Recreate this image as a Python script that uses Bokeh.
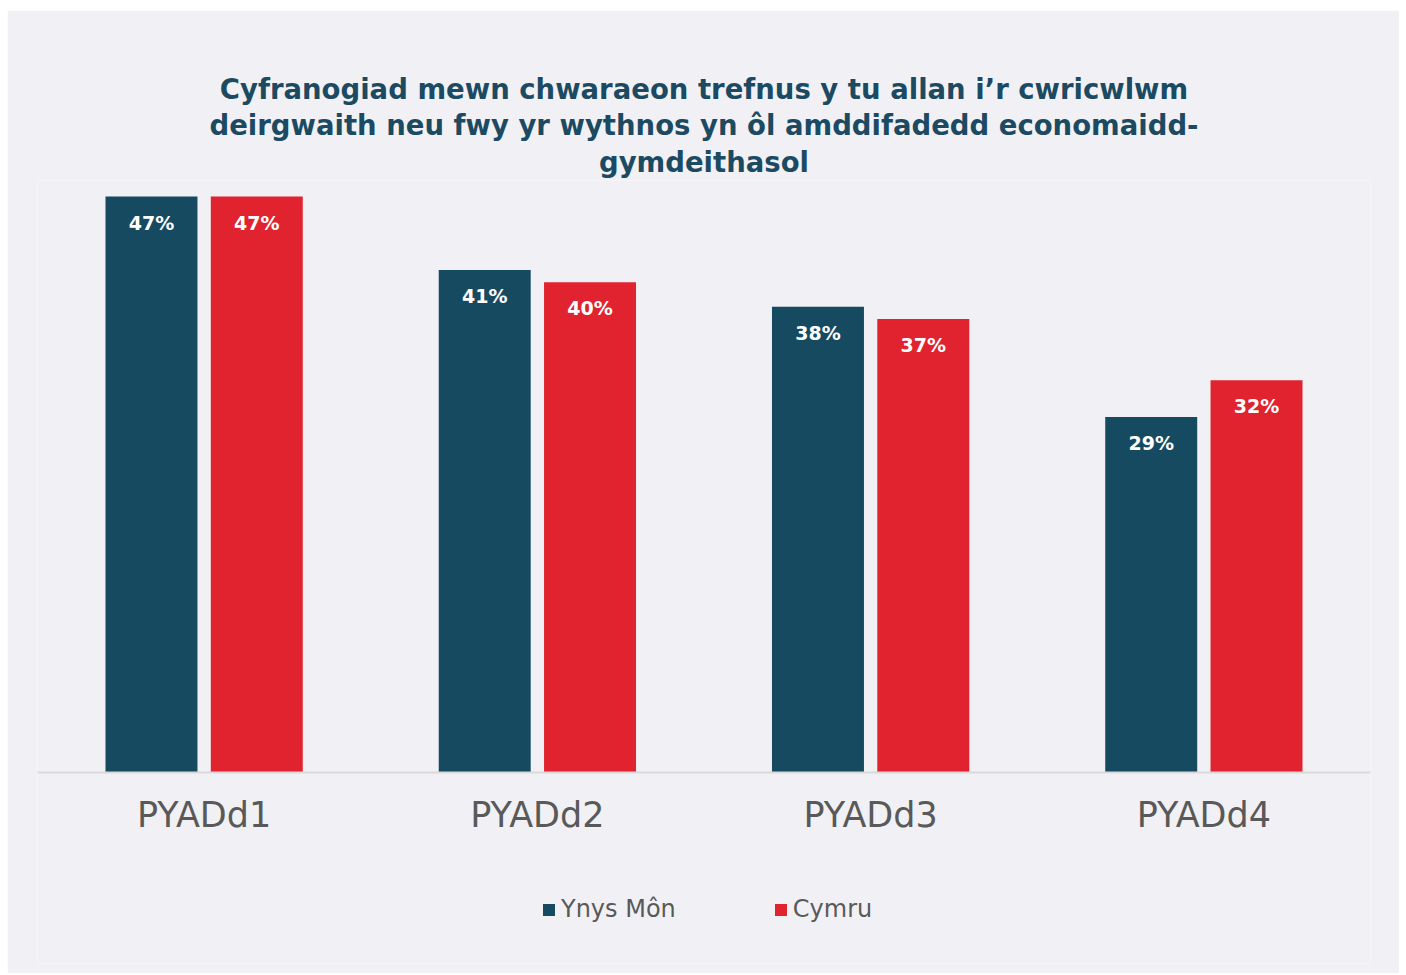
from bokeh.plotting import figure
from bokeh.models import FactorRange, ColumnDataSource, LabelSet, Legend, LegendItem, Title, Range1d
from bokeh.transform import dodge
from bokeh.core.properties import value
from bokeh.embed import file_html
from bokeh.resources import INLINE

categories = ["PYADd1", "PYADd2", "PYADd3", "PYADd4"]
series_names = ["Ynys Môn", "Cymru"]
ynys_mon = [47, 41, 38, 29]
cymru = [47, 40, 37, 32]
ynys_labels = ["47%", "41%", "38%", "29%"]
cymru_labels = ["47%", "40%", "37%", "32%"]
title_lines = [
    "Cyfranogiad mewn chwaraeon trefnus y tu allan i’r cwricwlwm",
    "deirgwaith neu fwy yr wythnos yn ôl amddifadedd economaidd-",
    "gymdeithasol",
]

BG = "#f1f1f5"
DARK = "#164a61"
RED = "#e0232f"
TITLE_C = "#1b4a62"
GREY = "#595959"
FONT = "DejaVu Sans"

src = ColumnDataSource(dict(cat=categories, a=ynys_mon, b=cymru, la=ynys_labels, lb=cymru_labels))

PX_PER_UNIT = 12.255
p = figure(
    x_range=FactorRange(factors=categories),
    y_range=Range1d(-191 / PX_PER_UNIT, 592 / PX_PER_UNIT),
    width=1392, height=963,
    output_backend="svg", toolbar_location=None,
    min_border_left=30, min_border_right=29,
    min_border_top=170, min_border_bottom=10,
)
p.margin = (10, 0, 0, 7)
p.background_fill_color = BG
p.border_fill_color = BG
p.outline_line_color = None
p.grid.visible = False
p.yaxis.visible = False

standoffs = [3, 0, 6]
for line, so in reversed(list(zip(title_lines, standoffs))):
    p.add_layout(Title(text=line, align="center", text_font=FONT,
                       text_font_size="27.5px", text_font_style="bold", text_color=TITLE_C,
                       text_line_height=1.0, standoff=so, offset=0), "above")

ra = p.vbar(x=dodge("cat", -0.158, range=p.x_range), top="a", bottom=0, width=0.276, source=src,
            fill_color=DARK, line_color=None)
rb = p.vbar(x=dodge("cat", 0.158, range=p.x_range), top="b", bottom=0, width=0.276, source=src,
            fill_color=RED, line_color=None)

for col, lab, dx in (("a", "la", -0.158), ("b", "lb", 0.158)):
    ls = LabelSet(x=dodge("cat", dx, range=p.x_range), y=col, text=lab, source=src,
                  text_align="center", text_baseline="middle", y_offset=-26,
                  text_color="white", text_font=value(FONT), text_font_style="bold",
                  text_font_size="19px")
    p.add_layout(ls)

ax = p.xaxis[0]
ax.fixed_location = 0
ax.axis_line_color = "#d9d9d9"
ax.axis_line_width = 2
ax.major_tick_line_color = None
ax.minor_tick_line_color = None
ax.major_label_text_font = FONT
ax.major_label_text_font_size = "35px"
ax.major_label_text_color = GREY
ax.major_label_standoff = 16

legend = Legend(items=[LegendItem(label=series_names[0], renderers=[ra]),
                       LegendItem(label=series_names[1], renderers=[rb])],
                orientation="horizontal", location=(504, 40),
                background_fill_alpha=0, border_line_color=None,
                glyph_width=15, glyph_height=15, label_text_font=FONT,
                label_text_font_size="24px", label_text_color=GREY,
                spacing=97, label_standoff=5, margin=0, padding=0)
p.add_layout(legend, "center")

open("out.html", "w").write(file_html(p, INLINE))
